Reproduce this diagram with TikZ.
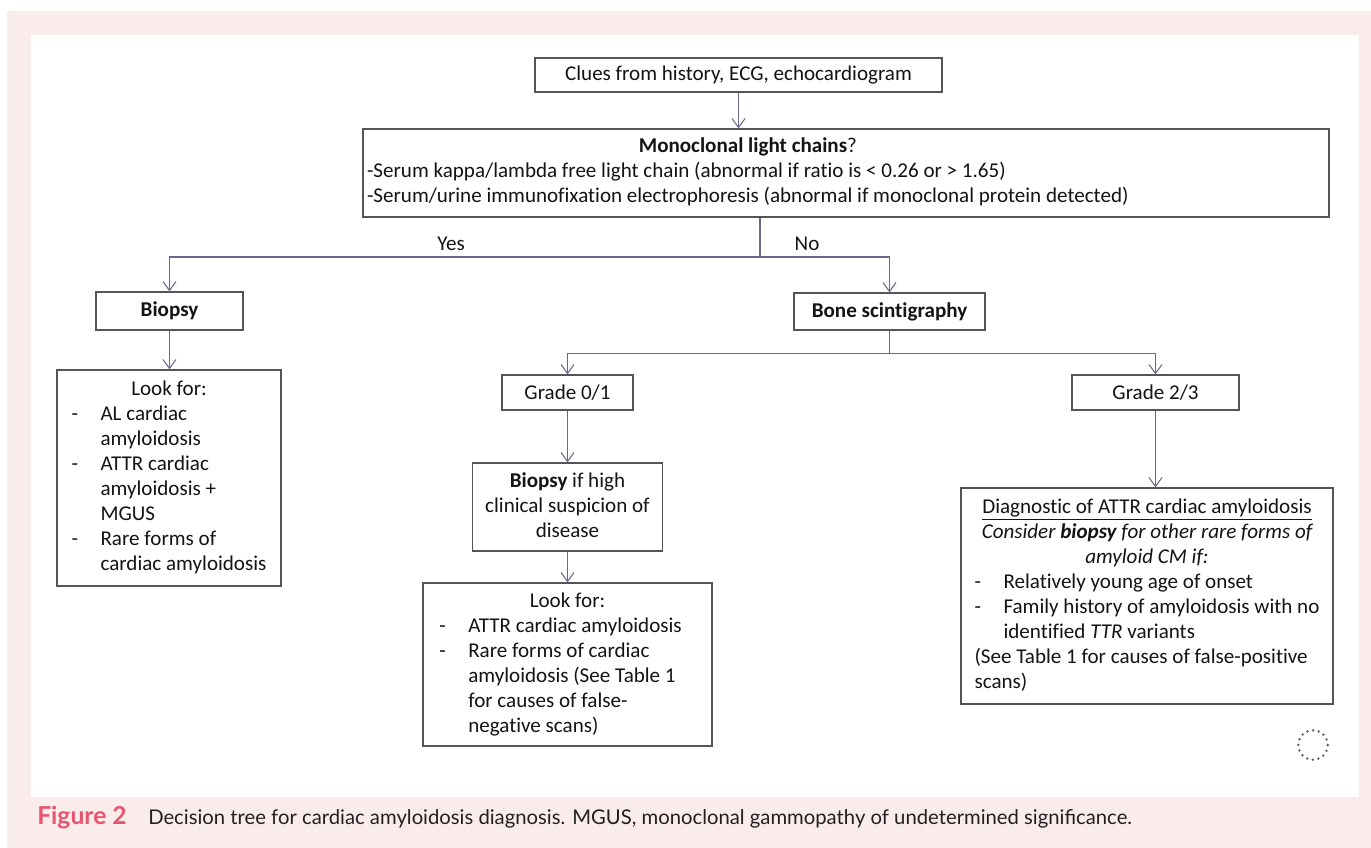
\documentclass[tikz,border=0pt]{standalone}
\usepackage{fontspec}
\setmainfont{Carlito}[Ligatures=NoCommon]
\newfontfamily\capfont{Lato}
\usetikzlibrary{arrows.meta,calc}
\newlength\px \setlength\px{0.75pt}
\definecolor{pinkbg}{RGB}{251,236,236}
\definecolor{lnc}{RGB}{105,105,140}
\definecolor{bdc}{RGB}{85,85,85}
\definecolor{figred}{RGB}{232,84,110}
\definecolor{captxt}{RGB}{35,31,32}
\definecolor{txt}{RGB}{20,20,20}
\newcommand\dsh{\makebox[29\px][l]{-}}
\newcommand\ind{\hspace*{29\px}}
\begin{document}
\begin{tikzpicture}[x=0.75pt,y=-0.75pt,
  every node/.style={font=\fontsize{15.8}{18.75}\selectfont, text=txt},
  box/.style={draw=bdc, line width=0.9pt, inner sep=0pt, fill=white},
  ln/.style={draw=lnc, line width=0.9pt},
  arr/.style={ln, -{Straight Barb[length=6.75pt,width=9.75pt,line width=0.8pt]}},
  dotc/.style={draw=gray!75!black, line width=2pt, line cap=round, dash pattern=on 0pt off 4.3pt}]
\useasboundingbox (0,0) rectangle (1371,848);
\fill[pinkbg] (7,11) rectangle (1371,848);
\fill[white] (31,35) rectangle (1359,797);

% boxes
\node[box, minimum width=407\px, minimum height=34\px] (clues) at (738.5,75)
  {Clues from history, ECG, echocardiogram};
\node[box, minimum width=966\px, minimum height=88\px] (mono) at (846,173)
  {\makebox[958\px][l]{\begin{tabular}{@{}l@{}}
   \multicolumn{1}{@{}c@{}}{\textbf{Monoclonal light chains}?}\\
   -Serum kappa/lambda free light chain (abnormal if ratio is < 0.26 or > 1.65)\\
   -Serum/urine immunofixation electrophoresis (abnormal if monoclonal protein detected)
   \end{tabular}}};
\node[box, minimum width=147\px, minimum height=38\px] (biopsy) at (169.5,311) {\textbf{Biopsy}};
\node[box, minimum width=191\px, minimum height=37\px] (bone) at (889.5,311.5) {\textbf{Bone scintigraphy}};
\node[box, minimum width=224\px, minimum height=216\px] (lf1) at (169,478)
  {\begin{tabular}{@{}l@{}}
   \multicolumn{1}{@{}c@{}}{Look for:}\\
   \dsh AL cardiac\\
   \ind amyloidosis\\
   \dsh ATTR cardiac\\
   \ind amyloidosis +\\
   \ind MGUS\\
   \dsh Rare forms of\\
   \ind cardiac amyloidosis
   \end{tabular}};
\node[box, minimum width=131\px, minimum height=35\px] (g01) at (567.5,392.5) {Grade 0/1};
\node[box, minimum width=167\px, minimum height=35\px] (g23) at (1155.5,392.5) {Grade 2/3};
\node[box, minimum width=190\px, minimum height=88\px] (bif) at (567.5,507)
  {\begin{tabular}{@{}c@{}}
   \textbf{Biopsy} if high\\
   clinical suspicion of\\
   disease
   \end{tabular}};
\node[box, minimum width=289\px, minimum height=163\px] (lf2) at (567.5,664.5)
  {\hspace*{-14\px}\begin{tabular}{@{}l@{}}
   \multicolumn{1}{@{}c@{}}{\hspace*{14\px}Look for:}\\
   \dsh ATTR cardiac amyloidosis\\
   \dsh Rare forms of cardiac\\
   \ind amyloidosis (See Table 1\\
   \ind for causes of false-\\
   \ind negative scans)
   \end{tabular}};
\node[box, minimum width=372\px, minimum height=216\px] (diag) at (1147,596)
  {\begin{tabular}{@{}l@{}}
   \multicolumn{1}{@{}c@{}}{\underline{Diagnostic of ATTR cardiac amyloidosis}}\\
   \multicolumn{1}{@{}c@{}}{\itshape Consider \textbf{biopsy} for other rare forms of}\\
   \multicolumn{1}{@{}c@{}}{\itshape amyloid CM if:}\\
   \dsh Relatively young age of onset\\
   \dsh Family history of amyloidosis with no\\
   \ind identified \textit{TTR} variants\\
   (See Table 1 for causes of false-positive\\
   scans)
   \end{tabular}};

% labels
\node (yes) at (451,244) {Yes};
\node (no) at (807,244) {No};

% connectors
\draw[arr] (clues.south) -- (clues.south |- mono.north);
\coordinate (j1) at (760,257);
\draw[ln] (mono.south -| j1) -- (j1);
\draw[arr] (j1) -| (biopsy.north);
\draw[arr] (j1) -| (bone.north);
\draw[arr] (biopsy.south) -- (biopsy.south |- lf1.north);
\draw[ln] (bone.south) -- ++(0,23) coordinate (j2);
\draw[arr] (j2) -| (g01.north);
\draw[arr] (j2) -| (g23.north);
\draw[arr] (g01.south) -- (bif.north);
\draw[arr] (bif.south) -- (lf2.north);
\draw[arr] (g23.south) -- (g23.south |- diag.north);

% decorative dotted circle
\draw[dotc] (1313,745) circle[radius=11pt];

% caption
\node[anchor=west, inner sep=0pt, font=\capfont\fontsize{15.2}{17}\selectfont, text=captxt] (cap) at (37,818)
  {\makebox[111\px][l]{\textcolor{figred}{\fontsize{18.5}{20}\selectfont\bfseries Figure 2}}Decision tree for cardiac amyloidosis diagnosis. MGUS, monoclonal gammopathy of undetermined significance.};
\end{tikzpicture}
\end{document}
